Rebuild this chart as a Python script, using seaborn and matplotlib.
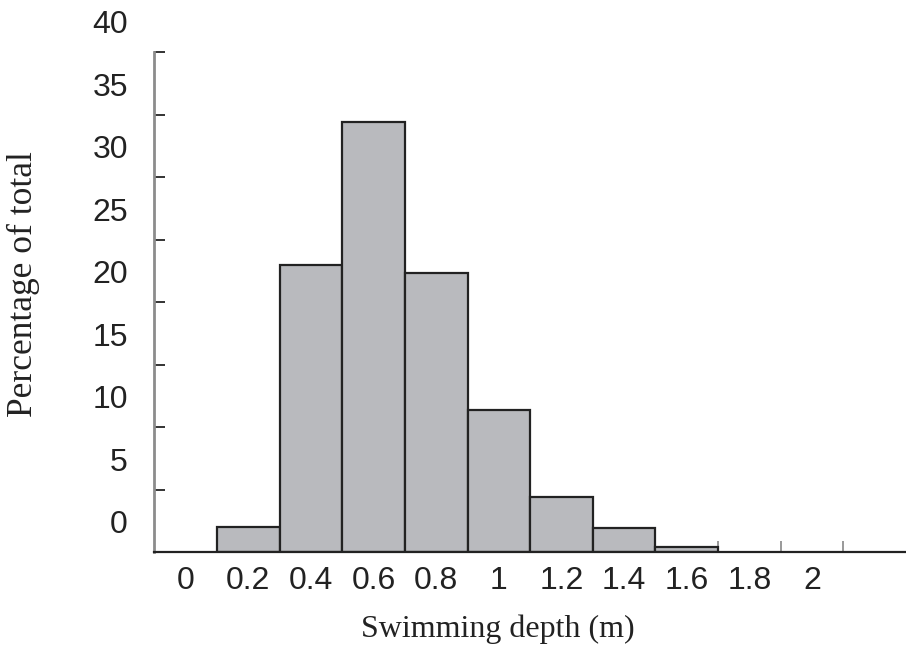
import numpy as np
import pandas as pd
import seaborn as sns
import matplotlib.pyplot as plt

# Histogram data: bin centres (m) and percentage of total
depth_mid = [0.2, 0.4, 0.6, 0.8, 1.0, 1.2, 1.4, 1.6]
pct = [2.0, 23.0, 34.4, 22.3, 11.4, 4.4, 1.9, 0.4]
bin_edges = [0.1, 0.3, 0.5, 0.7, 0.9, 1.1, 1.3, 1.5, 1.7]

# Axis ticks / labels
x_labels = [0, 0.2, 0.4, 0.6, 0.8, 1, 1.2, 1.4, 1.6, 1.8, 2]
x_tick_marks = [0.1, 0.3, 0.5, 0.7, 0.9, 1.1, 1.3, 1.5, 1.7, 1.9, 2.1]
y_labels = [0, 5, 10, 15, 20, 25, 30, 35, 40]
y_tick_marks = [5, 10, 15, 20, 25, 30, 35, 40]

df = pd.DataFrame({'depth': depth_mid, 'pct': pct})

sns.set_style('white')
plt.rcParams['font.family'] = ['Liberation Sans', 'DejaVu Sans']

fig = plt.figure(figsize=(9.06, 6.51), dpi=100)
ax = fig.add_axes([0.1705, 0.152, 0.8295, 0.768])

sns.histplot(data=df, x='depth', weights='pct', bins=bin_edges,
             color='#b9babe', edgecolor='#222222', linewidth=1.6,
             alpha=1, ax=ax)

# x: labels at bin centres, small tick marks at bin edges
ax.set_xticks(x_labels)
ax.set_xticklabels([f'{v:g}' for v in x_labels])
ax.set_xticks(x_tick_marks, minor=True)
ax.tick_params(axis='x', which='both', bottom=True)
ax.tick_params(axis='x', which='major', length=0, pad=10, labelsize=23,
               labelcolor='#222222')
ax.tick_params(axis='x', which='minor', direction='in', length=8,
               width=1.2, color='#888888')

# y: tick marks at 5..40, no tick labels (drawn below as text)
ax.set_yticks(y_tick_marks)
ax.set_yticklabels([])
ax.tick_params(axis='y', which='major', left=True, direction='in', length=8,
               width=1.4, color='#333333')

ax.set_xlim(-0.1, 2.3)
ax.set_ylim(0, 40)

# the original prints its y labels shifted half a step above the ticks
ytrans = ax.get_yaxis_transform()
for v in y_labels:
    ax.text(-0.0353, v + 2.15, str(v), transform=ytrans, ha='right',
            va='center', fontsize=23, color='#222222', clip_on=False)

for s in ['top', 'right']:
    ax.spines[s].set_visible(False)
ax.spines['left'].set_color('#8c8c8c')
ax.spines['left'].set_linewidth(2)
ax.spines['bottom'].set_color('#222222')
ax.spines['bottom'].set_linewidth(1.6)

ax.set_xlabel('')
ax.set_ylabel('')
fig.text(0.5497, 0.0215, 'Swimming depth (m)', ha='center', va='baseline',
         fontsize=23, family=['Liberation Serif', 'DejaVu Serif'],
         color='#222222')
fig.text(0.026, 0.563, 'Percentage of total', ha='center', va='center',
         rotation=90, fontsize=25.5,
         family=['Liberation Serif', 'DejaVu Serif'], color='#222222')

plt.savefig('out.png', dpi=100)
plt.close()
